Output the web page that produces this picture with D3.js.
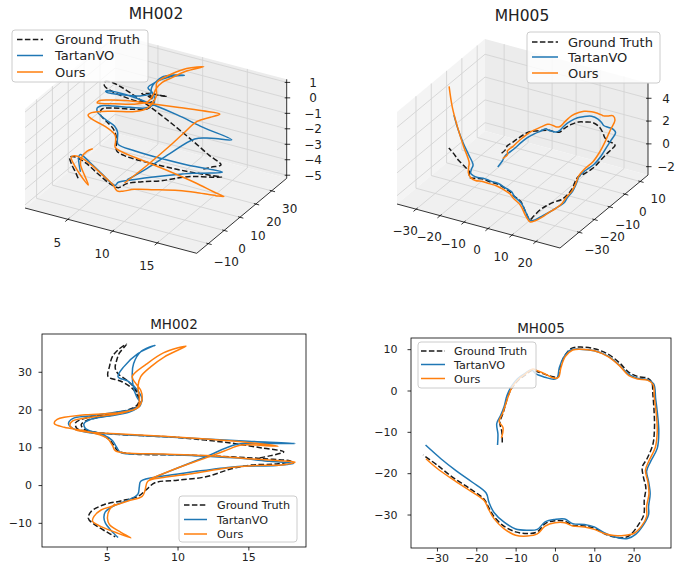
<!DOCTYPE html>
<html>
<head>
<meta charset="utf-8">
<script src="https://cdn.jsdelivr.net/npm/d3@7"></script>
<style>
  body { margin: 0; background: #fff; }
</style>
</head>
<body>
<script>
// series names, same order in every panel
var seriesNames = ['Ground Truth', 'TartanVO', 'Ours'];

// MH002 trajectories, [x, y, z]
var mh002Truth = [
  [15.8,7.2,-2.4],[16.6,7.8,-2.2],[17.5,8.8,-2.0],[16.0,9.8,-1.7],[14.0,11.0,-1.2],
  [12.0,11.9,-0.7],[10.0,12.6,-0.2],[7.5,13.1,0.4],[5.5,13.5,0.8],[4.2,14.0,0.9],
  [3.4,14.8,0.7],[3.2,16.0,0.3],[3.6,17.1,0.0],[4.8,18.2,-0.3],[6.4,19.4,-0.5],
  [7.3,21.5,-0.6],[7.2,23.5,-0.7],[6.8,25.6,-0.8],[6.0,27.5,-0.9],[5.1,28.7,-1.0],
  [5.2,31.5,-1.2],[5.4,34.0,-1.4],[5.8,35.8,-1.6],[6.4,37.3,-1.7],[5.9,35.0,-1.5],
  [5.7,33.0,-1.3],[5.6,31.0,-1.1],[5.8,29.5,-1.0],[6.5,27.5,-0.9],[7.0,25.5,-0.9],
  [7.3,23.0,-0.9],[7.1,21.0,-1.0],[5.5,19.0,-1.1],[3.8,18.0,-1.2],[2.8,16.5,-1.3],
  [2.9,15.0,-1.5],[3.6,14.2,-1.7],[4.6,13.4,-2.0],[5.2,12.0,-2.3],[5.5,10.5,-2.6],
  [5.8,9.0,-2.9],[7.0,8.2,-3.0],[10.0,8.0,-3.0],[13.0,7.6,-2.9],[16.0,7.0,-2.7],
  [18.0,6.3,-2.5],[17.0,5.6,-2.6],[15.2,5.3,-2.8],[13.8,4.3,-3.0],[12.0,2.2,-3.3],
  [10.0,1.3,-3.6],[8.4,0.6,-3.9],[7.8,-1.2,-4.1],[7.2,-3.0,-3.8],[6.0,-4.2,-3.2],
  [4.8,-5.2,-2.6],[3.9,-7.0,-2.2],[3.7,-8.8,-2.1],[4.2,-10.6,-2.3],[5.0,-12.4,-2.6],
  [5.6,-13.7,-2.9]
];
var mh002Tartan = [
  [8.2,1.8,-3.8],[10.0,4.5,-3.0],[12.0,7.5,-2.0],[14.2,10.8,-1.0],[16.0,11.0,-0.7],
  [18.3,11.0,-0.45],[15.0,11.6,-0.2],[12.0,12.2,0.1],[9.0,12.8,0.3],[6.0,13.4,0.4],
  [4.2,14.0,0.3],[3.5,15.0,0.1],[3.4,16.3,-0.1],[3.8,17.3,-0.2],[5.0,18.2,-0.2],
  [6.6,19.3,-0.1],[7.4,21.3,0.0],[7.1,23.5,0.1],[6.9,25.6,0.1],[6.8,29.5,0.1],
  [6.9,32.2,0.1],[7.4,35.3,0.0],[8.4,37.0,0.0],[7.2,34.8,-0.1],[6.2,31.3,-0.3],
  [5.8,28.7,-0.5],[6.5,27.5,-0.6],[7.2,25.0,-0.7],[7.5,22.5,-0.8],[7.1,20.5,-0.9],
  [5.5,19.2,-1.0],[3.8,18.3,-1.1],[2.6,17.6,-1.2],[2.3,16.3,-1.3],[2.6,15.0,-1.4],
  [3.6,14.0,-1.6],[4.8,13.2,-1.8],[5.4,11.8,-2.0],[5.7,10.0,-2.2],[6.0,8.6,-2.4],
  [8.0,8.2,-2.5],[11.0,7.8,-2.5],[14.0,7.2,-2.4],[16.5,6.3,-2.2],[18.2,5.7,-2.1],
  [17.0,5.2,-2.3],[15.0,5.0,-2.6],[13.9,4.8,-2.8],[11.1,3.5,-3.3],[9.0,2.4,-3.7],
  [7.4,1.0,-4.0],[7.3,-0.5,-4.1],[7.2,-2.4,-3.8],[6.5,-4.0,-3.2],[5.6,-5.3,-2.6],
  [4.9,-7.1,-2.0],[4.8,-8.5,-1.8],[4.9,-10.0,-1.8],[5.3,-12.0,-2.0],[5.8,-13.9,-2.3]
];
var mh002Ours = [
  [8.0,1.5,-4.0],[10.0,4.5,-2.8],[12.0,7.2,-1.5],[13.3,9.0,-0.6],[14.5,10.6,0.2],
  [16.0,10.5,0.7],[17.1,10.3,1.1],[15.0,11.3,0.9],[12.0,12.2,0.6],[9.0,12.9,0.3],
  [6.0,13.5,0.0],[4.0,13.9,-0.3],[2.8,14.6,-0.6],[2.4,15.8,-0.9],[2.6,17.0,-1.0],
  [4.0,18.0,-0.9],[6.0,19.0,-0.7],[7.2,20.7,-0.5],[7.3,23.4,-0.3],[7.2,26.0,-0.1],
  [7.4,28.7,0.1],[8.1,31.3,0.3],[9.05,33.9,0.6],[10.6,36.8,0.9],[9.0,35.0,0.7],
  [7.8,32.0,0.4],[6.8,28.7,0.0],[7.05,26.9,-0.2],[7.4,25.1,-0.4],[7.5,22.9,-0.6],
  [7.2,20.5,-0.9],[6.0,19.2,-1.2],[3.5,18.6,-1.5],[1.5,17.4,-1.8],[1.3,16.3,-1.9],
  [2.0,15.3,-2.0],[3.5,14.3,-2.1],[5.0,12.5,-2.3],[5.4,10.5,-2.5],[5.6,9.1,-2.7],
  [6.3,8.5,-2.8],[9.0,8.2,-3.0],[12.0,7.8,-3.2],[15.0,7.0,-3.4],[17.0,6.5,-3.6],
  [18.3,6.1,-3.7],[17.5,5.4,-3.7],[15.5,5.2,-3.8],[13.5,4.5,-3.9],[11.0,3.0,-4.1],
  [9.0,2.0,-4.3],[7.9,1.0,-4.5],[7.7,-1.5,-4.3],[7.5,-3.0,-3.8],[6.5,-4.2,-3.2],
  [5.5,-5.5,-2.6],[4.6,-6.6,-2.2],[4.1,-8.3,-2.0],[4.0,-9.6,-2.0],[4.6,-11.0,-2.3],
  [5.6,-12.5,-2.7],[6.7,-14.0,-3.0],[6.0,-12.5,-2.6],[5.2,-10.5,-2.2],[5.05,-8.8,-1.9],
  [5.2,-6.5,-1.7],[5.6,-5.0,-1.6]
];

// MH005 trajectories, [x, y, z]
var mh005Truth = [
  [-13.4,-12.6,-0.2],[-13.5,-10.0,-0.2],[-14.0,-7.8,-0.1],[-13.2,-5.5,0.0],[-12.6,-3.5,0.1],
  [-11.8,-1.0,0.2],[-10.8,0.8,0.3],[-9.2,2.6,0.3],[-7.5,3.8,0.3],[-5.8,4.9,0.3],
  [-4.6,4.6,0.4],[-2.5,3.9,0.5],[-0.5,3.3,0.6],[0.8,3.3,0.7],[1.3,5.5,0.8],
  [2.4,8.3,0.9],[4.2,10.2,1.0],[6.5,10.5,1.1],[10.0,10.1,1.3],[13.5,8.8,1.3],
  [16.5,6.6,1.2],[18.8,4.4,1.1],[21.0,3.4,1.0],[23.5,3.0,1.0],[24.6,2.0,1.0],
  [24.9,-1.0,1.0],[25.2,-5.0,1.0],[25.3,-9.0,0.9],[24.9,-13.0,0.7],[23.4,-16.5,0.5],
  [22.2,-18.5,0.4],[22.5,-21.0,0.2],[23.1,-23.5,0.0],[22.7,-26.5,-0.3],[22.6,-30.0,-0.3],
  [21.2,-32.5,-0.3],[19.3,-34.8,-0.5],[17.6,-35.6,-0.8],[14.5,-35.3,-1.6],[12.5,-34.6,-2.1],
  [10.0,-33.3,-1.8],[7.5,-32.8,-1.0],[4.5,-32.6,-0.7],[2.5,-31.6,-0.6],[0.0,-31.5,-0.4],
  [-2.5,-32.2,-0.1],[-4.5,-34.2,0.2],[-7.0,-34.6,0.35],[-10.0,-34.2,0.2],[-13.0,-32.8,-0.1],
  [-15.5,-30.5,-0.4],[-17.0,-28.0,-0.5],[-18.0,-26.3,-0.6],[-22.0,-23.5,-0.6],[-26.0,-21.0,-0.6],
  [-30.0,-18.0,-0.55],[-33.5,-15.6,-0.55]
];
var mh005Tartan = [
  [-14.6,-13.2,-1.4],[-14.5,-10.5,-1.2],[-14.8,-8.0,-1.0],[-13.8,-6.0,-0.8],[-12.9,-3.8,-0.6],
  [-12.2,-1.2,-0.4],[-11.2,0.8,-0.2],[-9.6,2.8,0.0],[-7.8,4.0,0.2],[-6.0,5.0,0.4],
  [-4.8,4.0,0.5],[-2.5,3.2,0.6],[-0.3,2.7,0.7],[0.6,3.1,0.8],[1.1,5.5,1.0],
  [2.2,8.0,1.2],[4.0,9.8,1.4],[6.2,10.0,1.6],[10.0,9.6,1.9],[13.5,8.3,2.0],
  [16.5,6.0,2.1],[18.8,3.9,2.2],[21.0,3.0,2.3],[23.5,2.6,2.3],[25.1,1.6,2.2],
  [25.6,-2.0,2.0],[26.1,-6.0,1.8],[26.4,-10.0,1.5],[26.0,-14.0,1.2],[24.3,-17.2,0.9],
  [23.3,-19.5,0.6],[23.8,-22.0,0.3],[24.2,-25.0,0.0],[23.8,-28.0,-0.3],[23.8,-30.0,-0.5],
  [22.5,-32.5,-0.7],[20.5,-34.8,-1.0],[18.5,-35.8,-1.3],[15.0,-35.4,-1.9],[12.5,-34.4,-2.2],
  [10.0,-33.0,-1.9],[7.5,-32.4,-1.2],[4.5,-32.2,-0.8],[2.5,-31.1,-0.6],[0.0,-31.2,-0.4],
  [-2.5,-31.8,-0.1],[-4.5,-33.6,0.2],[-7.0,-33.8,0.3],[-10.0,-33.5,0.2],[-13.0,-31.8,0.0],
  [-15.5,-29.5,-0.2],[-16.8,-27.0,-0.2],[-17.5,-24.8,-0.1],[-21.0,-22.2,0.3],[-25.0,-19.5,0.8],
  [-29.0,-16.5,1.4],[-32.9,-13.2,2.1]
];
var mh005Ours = [
  [-13.6,-11.5,-0.8],[-13.2,-9.0,-0.7],[-14.2,-7.5,-0.6],[-13.3,-5.5,-0.4],[-12.6,-3.5,-0.2],
  [-11.8,-1.2,0.0],[-10.8,1.0,0.2],[-9.2,2.8,0.4],[-7.5,4.0,0.6],[-5.6,5.2,0.8],
  [-4.5,4.8,0.9],[-2.5,4.0,1.0],[-0.4,3.0,1.1],[0.9,3.2,1.2],[1.5,5.5,1.4],
  [2.6,8.2,1.7],[4.5,9.8,1.9],[6.6,10.0,2.1],[10.0,9.6,2.3],[13.5,8.2,2.5],
  [16.5,5.9,2.8],[18.8,3.6,3.1],[21.0,2.8,3.3],[23.5,2.5,3.5],[24.9,1.5,3.3],
  [25.3,-2.0,2.9],[25.8,-6.0,2.4],[26.0,-10.0,1.9],[25.5,-13.8,1.4],[23.9,-17.0,1.0],
  [23.0,-19.3,0.6],[23.6,-22.0,0.3],[23.9,-25.0,0.0],[23.3,-28.0,-0.3],[23.3,-30.5,-0.5],
  [22.0,-32.8,-0.8],[20.0,-34.6,-1.1],[18.0,-35.0,-1.5],[15.0,-35.1,-2.0],[12.5,-34.6,-2.3],
  [10.0,-33.6,-2.0],[7.5,-33.0,-1.3],[4.5,-32.8,-0.9],[2.5,-32.0,-0.7],[0.0,-32.0,-0.5],
  [-2.5,-32.8,-0.2],[-4.5,-34.7,0.1],[-7.0,-35.2,0.2],[-10.0,-35.0,0.1],[-13.0,-33.4,0.0],
  [-15.5,-31.0,0.0],[-17.0,-28.5,0.1],[-18.0,-26.6,0.3],[-22.0,-24.0,1.2],[-26.0,-21.5,2.3],
  [-30.0,-18.8,3.6],[-32.8,-16.5,5.0]
];

// tick values
var mh002XTicks = [5, 10, 15];
var mh002YTicks = [-10, 0, 10, 20, 30];
var mh002ZTicks = [-5, -4, -3, -2, -1, 0, 1];
var mh005XTicks = [-30, -20, -10, 0, 10, 20];
var mh005YTicks = [-30, -20, -10, 0, 10];
var mh005ZTicks = [-2, 0, 2, 4];

var colors = ['#1a1a1a', '#1f77b4', '#ff7f0e'];
var dashes = ['5.5,2.4', null, null];
var textColor = '#222';

var svg = d3.select('body').append('svg')
  .attr('width', 677)
  .attr('height', 566)
  .style('font-family', '"DejaVu Sans", sans-serif');

function drawLegend(g, lg) {
  g.append('rect')
    .attr('x', lg.box[0]).attr('y', lg.box[1])
    .attr('width', lg.box[2] - lg.box[0]).attr('height', lg.box[3] - lg.box[1])
    .attr('rx', 3)
    .attr('fill', '#fff').attr('fill-opacity', 0.8)
    .attr('stroke', '#cccccc').attr('stroke-width', 1);
  seriesNames.forEach(function (name, i) {
    g.append('line')
      .attr('x1', lg.sample[0]).attr('x2', lg.sample[1])
      .attr('y1', lg.rows[i]).attr('y2', lg.rows[i])
      .attr('stroke', colors[i]).attr('stroke-width', 1.5)
      .attr('stroke-dasharray', dashes[i]);
    g.append('text')
      .attr('x', lg.textX).attr('y', lg.rows[i]).attr('dy', '0.36em')
      .attr('font-size', lg.size).attr('fill', textColor)
      .text(name);
  });
}

function plot2d(opt) {
  var g = svg.append('g');
  var x = d3.scaleLinear().domain(opt.xDomain).range([opt.box[0], opt.box[2]]);
  var y = d3.scaleLinear().domain(opt.yDomain).range([opt.box[3], opt.box[1]]);
  var line = d3.line()
    .curve(d3.curveCatmullRom.alpha(0.5))
    .x(function (d) { return x(d[0]); })
    .y(function (d) { return y(d[1]); });

  opt.series.forEach(function (s, i) {
    g.append('path')
      .attr('d', line(s))
      .attr('fill', 'none')
      .attr('stroke', colors[i])
      .attr('stroke-width', 1.5)
      .attr('stroke-dasharray', dashes[i]);
  });

  g.append('rect')
    .attr('x', opt.box[0]).attr('y', opt.box[1])
    .attr('width', opt.box[2] - opt.box[0]).attr('height', opt.box[3] - opt.box[1])
    .attr('fill', 'none').attr('stroke', '#000').attr('stroke-width', 0.8);

  var ax = g.append('g')
    .attr('transform', 'translate(0,' + opt.box[3] + ')')
    .call(d3.axisBottom(x).tickValues(opt.xTicks).tickSize(3.5).tickPadding(2.5));
  var ay = g.append('g')
    .attr('transform', 'translate(' + opt.box[0] + ',0)')
    .call(d3.axisLeft(y).tickValues(opt.yTicks).tickSize(3.5).tickPadding(opt.yPad));
  [ax, ay].forEach(function (a) {
    a.select('.domain').remove();
    a.selectAll('line').attr('stroke', '#000').attr('stroke-width', 0.8);
    a.selectAll('text')
      .attr('fill', textColor)
      .style('font-family', '"DejaVu Sans", sans-serif')
      .style('font-size', '11px');
  });

  g.append('text')
    .attr('x', (opt.box[0] + opt.box[2]) / 2).attr('y', opt.titleY)
    .attr('text-anchor', 'middle').attr('font-size', 13.5).attr('fill', textColor)
    .text(opt.title);

  drawLegend(g, opt.legend);
}

function plot3d(opt) {
  var g = svg.append('g');
  var sx = d3.scaleLinear().domain(opt.xDomain).range([0, 1]);
  var sy = d3.scaleLinear().domain(opt.yDomain).range([0, 1]);
  var sz = d3.scaleLinear().domain(opt.zDomain).range([0, 1]);
  function proj(p) {
    var u = sx(p[0]), v = sy(p[1]), w = sz(p[2]);
    return [
      opt.origin[0] + opt.ex[0] * u + opt.ey[0] * v + opt.ez[0] * w,
      opt.origin[1] + opt.ex[1] * u + opt.ey[1] * v + opt.ez[1] * w
    ];
  }
  var X0 = opt.xDomain[0], X1 = opt.xDomain[1];
  var Y0 = opt.yDomain[0], Y1 = opt.yDomain[1];
  var Z0 = opt.zDomain[0], Z1 = opt.zDomain[1];

  // back panes: x = min wall, y = max wall, floor
  var panes = [
    { pts: [[X0,Y0,Z0],[X0,Y1,Z0],[X0,Y1,Z1],[X0,Y0,Z1]], fill: '#f4f4f4' },
    { pts: [[X0,Y1,Z0],[X1,Y1,Z0],[X1,Y1,Z1],[X0,Y1,Z1]], fill: '#ececec' },
    { pts: [[X0,Y0,Z0],[X1,Y0,Z0],[X1,Y1,Z0],[X0,Y1,Z0]], fill: '#f0f0f0' }
  ];
  panes.forEach(function (p) {
    g.append('path')
      .attr('d', 'M' + p.pts.map(proj).join('L') + 'Z')
      .attr('fill', p.fill);
  });

  var gridLines = [];
  opt.xTicks.forEach(function (t) {
    gridLines.push([[t,Y0,Z0],[t,Y1,Z0]]);
    gridLines.push([[t,Y1,Z0],[t,Y1,Z1]]);
  });
  opt.yTicks.forEach(function (t) {
    gridLines.push([[X0,t,Z0],[X1,t,Z0]]);
    gridLines.push([[X0,t,Z0],[X0,t,Z1]]);
  });
  opt.zTicks.forEach(function (t) {
    gridLines.push([[X0,Y0,t],[X0,Y1,t]]);
    gridLines.push([[X0,Y1,t],[X1,Y1,t]]);
  });
  gridLines.forEach(function (l) {
    var a = proj(l[0]), b = proj(l[1]);
    g.append('line')
      .attr('x1', a[0]).attr('y1', a[1]).attr('x2', b[0]).attr('y2', b[1])
      .attr('stroke', '#d4d4d4').attr('stroke-width', 0.9);
  });

  // axis lines
  [[[X0,Y0,Z0],[X1,Y0,Z0]], [[X1,Y0,Z0],[X1,Y1,Z0]], [[X1,Y1,Z0],[X1,Y1,Z1]]].forEach(function (l) {
    var a = proj(l[0]), b = proj(l[1]);
    g.append('line')
      .attr('x1', a[0]).attr('y1', a[1]).attr('x2', b[0]).attr('y2', b[1])
      .attr('stroke', '#000').attr('stroke-width', 0.8);
  });

  function unit(v) {
    var n = Math.sqrt(v[0] * v[0] + v[1] * v[1]);
    return [v[0] / n, v[1] / n];
  }
  var xOut = unit([-opt.ey[0], -opt.ey[1]]);
  var yOut = unit(opt.ex);
  function tick(p, dir) {
    g.append('line')
      .attr('x1', p[0] - dir[0] * 2).attr('y1', p[1] - dir[1] * 2)
      .attr('x2', p[0] + dir[0] * 3.5).attr('y2', p[1] + dir[1] * 3.5)
      .attr('stroke', '#000').attr('stroke-width', 0.8);
  }
  function label(x, y, s) {
    g.append('text')
      .attr('x', x).attr('y', y).attr('dy', '0.36em')
      .attr('text-anchor', 'middle').attr('font-size', 12).attr('fill', textColor)
      .text(d3.format('')(s));
  }
  opt.xTicks.forEach(function (t) {
    var p = proj([t, Y0, Z0]);
    tick(p, xOut);
    label(p[0] + opt.xLabelOff[0], p[1] + opt.xLabelOff[1], t);
  });
  opt.yTicks.forEach(function (t) {
    var p = proj([X1, t, Z0]);
    tick(p, yOut);
    label(p[0] + opt.yLabelOff[0], p[1] + opt.yLabelOff[1], t);
  });
  opt.zTicks.forEach(function (t) {
    var p = proj([X1, Y1, t]);
    tick(p, [1, 0]);
    label(opt.zLabelX, p[1], t);
  });

  var line = d3.line()
    .curve(d3.curveCatmullRom.alpha(0.5))
    .x(function (d) { return proj(d)[0]; })
    .y(function (d) { return proj(d)[1]; });
  opt.series.forEach(function (s, i) {
    g.append('path')
      .attr('d', line(s))
      .attr('fill', 'none')
      .attr('stroke', colors[i])
      .attr('stroke-width', 1.5)
      .attr('stroke-dasharray', dashes[i]);
  });

  g.append('text')
    .attr('x', opt.titlePos[0]).attr('y', opt.titlePos[1])
    .attr('text-anchor', 'middle').attr('font-size', 15.5).attr('fill', textColor)
    .text(opt.title);

  drawLegend(g, opt.legend);
}

plot3d({
  origin: [25, 208], ex: [171.7, 45.3], ey: [90, -75], ez: [0, -99],
  xDomain: [0.2, 19.4], yDomain: [-17.3, 39.5], zDomain: [-5.2, 1.2],
  xTicks: mh002XTicks, yTicks: mh002YTicks, zTicks: mh002ZTicks,
  xLabelOff: [-10.5, 23], yLabelOff: [18, 18], zLabelX: 313,
  series: [mh002Truth, mh002Tartan, mh002Ours],
  title: 'MH002', titlePos: [156, 19],
  legend: { box: [12, 30, 148, 82], rows: [39.5, 55.5, 72], sample: [17, 43], textX: 55, size: 13 }
});

plot3d({
  origin: [397, 204], ex: [163, 44], ey: [88, -73], ez: [0, -92],
  xDomain: [-38, 30], yDomain: [-42.4, 15.1], zDomain: [-2.73, 5.34],
  xTicks: mh005XTicks, yTicks: mh005YTicks, zTicks: mh005ZTicks,
  xLabelOff: [-11, 21.5], yLabelOff: [18, 17.5], zLabelX: 666,
  series: [mh005Truth, mh005Tartan, mh005Ours],
  title: 'MH005', titlePos: [522, 20.7],
  legend: { box: [527, 32, 660, 83], rows: [42, 57, 73], sample: [532, 558], textX: 568, size: 13 }
});

plot2d({
  box: [42, 334, 306, 547],
  xDomain: [0.43, 19.07], yDomain: [-16.4, 40.0],
  xTicks: mh002XTicks, yTicks: mh002YTicks,
  series: [mh002Truth, mh002Tartan, mh002Ours],
  title: 'MH002', titleY: 329, yPad: 6.5,
  legend: { box: [179, 496, 297, 542], rows: [505, 519.5, 534], sample: [184, 207], textX: 217, size: 11.2 }
});

plot2d({
  box: [411, 338, 671, 548],
  xDomain: [-36.6, 29.5], yDomain: [-38.1, 12.7],
  xTicks: mh005XTicks, yTicks: mh005YTicks,
  series: [mh005Truth, mh005Tartan, mh005Ours],
  title: 'MH005', titleY: 332.7, yPad: 10,
  legend: { box: [418, 342, 536, 388], rows: [351, 364.5, 378.5], sample: [421, 445], textX: 454, size: 11.2 }
});
</script>
</body>
</html>
